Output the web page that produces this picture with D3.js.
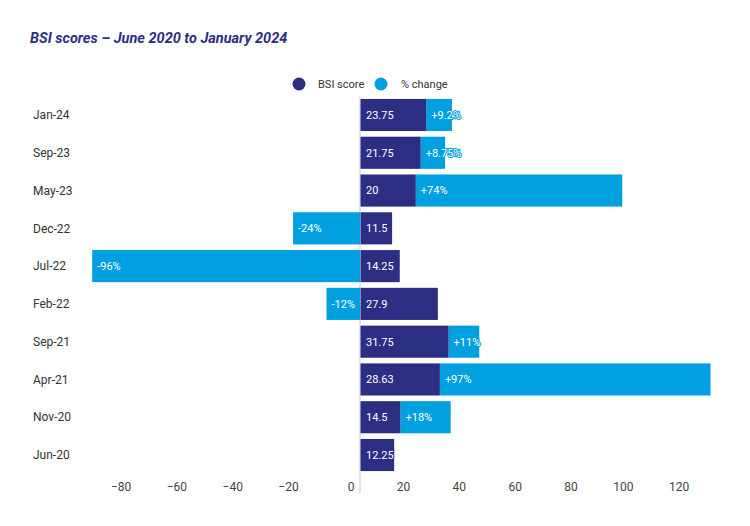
<!DOCTYPE html>
<html>
<head>
<meta charset="utf-8">
<script src="https://cdn.jsdelivr.net/npm/d3@7"></script>
<style>
  body { margin: 0; background: #fff; }
  svg { font-family: Roboto, "Noto Sans", sans-serif; }
</style>
</head>
<body>
<div id="chart"></div>
<script>
(function () {
  "use strict";

  var dates  = ["Jan-24", "Sep-23", "May-23", "Dec-22", "Jul-22", "Feb-22", "Sep-21", "Apr-21", "Nov-20", "Jun-20"];
  var bsi    = [23.75, 21.75, 20, 11.5, 14.25, 27.9, 31.75, 28.63, 14.5, 12.25];
  var change = [9.2, 8.75, 74, -24, -96, -12, 11, 97, 18, null];
  var ticks  = [-80, -60, -40, -20, 0, 20, 40, 60, 80, 100, 120];

  var NAVY  = "#2c2e83";
  var BLUE  = "#00a0e0";
  var TEXT  = "#333333";
  var AXIS  = "#444444";

  var W = 750, H = 526;

  var svg = d3.select("#chart")
    .append("svg")
      .attr("width", W)
      .attr("height", H);

  svg.append("text")
    .attr("x", 30)
    .attr("y", 43)
    .attr("fill", NAVY)
    .attr("font-size", "14.5px")
    .attr("font-weight", "bold")
    .attr("font-style", "italic")
    .text("BSI scores \u2013 June 2020 to January 2024");

  // legend
  var legend = [
    { label: "BSI score", color: NAVY, cx: 299, tx: 318 },
    { label: "% change",  color: BLUE, cx: 381, tx: 401 }
  ];
  legend.forEach(function (d) {
    svg.append("circle")
      .attr("cx", d.cx).attr("cy", 84).attr("r", 6.5)
      .attr("fill", d.color);
    svg.append("text")
      .attr("x", d.tx).attr("y", 84)
      .attr("dy", "0.35em")
      .attr("fill", TEXT)
      .attr("font-size", "11px")
      .text(d.label);
  });

  var x = d3.scaleLinear()
    .domain([-100, 130])
    .range([360 - 100 * 2.79, 360 + 130 * 2.79]);

  var y = d3.scaleBand()
    .domain(dates)
    .range([96.1, 473.9])
    .paddingInner(0.15)
    .paddingOuter(0.075);

  // zero line
  svg.append("line")
    .attr("x1", x(0)).attr("x2", x(0))
    .attr("y1", 97).attr("y2", 494)
    .attr("stroke", "#cccccc")
    .attr("stroke-width", 1);

  // x axis
  svg.append("g")
    .attr("transform", "translate(0,487)")
    .call(d3.axisBottom(x).tickValues(ticks).tickSize(0).tickPadding(0))
    .call(function (g) {
      g.select(".domain").remove();
      g.selectAll(".tick text")
        .attr("y", 0)
        .attr("dy", "0.35em")
        .attr("x", -6)
        .attr("text-anchor", "end")
        .attr("fill", AXIS)
        .attr("font-size", "12px")
        .attr("font-family", "Roboto, sans-serif");
    });

  // y labels
  svg.append("g")
    .selectAll("text")
    .data(dates)
    .join("text")
      .attr("x", 33)
      .attr("y", function (d) { return y(d) + y.bandwidth() / 2; })
      .attr("dy", "0.35em")
      .attr("fill", TEXT)
      .attr("font-size", "12px")
      .text(function (d) { return d; });

  var rows = dates.map(function (d, i) {
    return { date: d, bsi: bsi[i], change: change[i] };
  });

  var bh = y.bandwidth();

  // % change segments
  rows.forEach(function (r) {
    if (r.change == null) return;
    var x0, x1;
    if (r.change >= 0) {
      x0 = x(r.bsi);
      x1 = x(r.bsi + r.change);
    } else {
      x0 = x(r.change);
      x1 = x(0);
    }
    svg.append("rect")
      .attr("x", x0).attr("y", y(r.date))
      .attr("width", x1 - x0).attr("height", bh)
      .attr("fill", BLUE);
  });

  // BSI bars
  rows.forEach(function (r) {
    svg.append("rect")
      .attr("x", x(0) + 0.5).attr("y", y(r.date))
      .attr("width", x(r.bsi) - x(0) - 0.5).attr("height", bh)
      .attr("fill", NAVY);
    svg.append("text")
      .attr("x", x(0) + 6)
      .attr("y", y(r.date) + bh / 2)
      .attr("dy", "0.35em")
      .attr("fill", "#fff")
      .attr("stroke", NAVY)
      .attr("stroke-width", 2)
      .attr("paint-order", "stroke")
      .attr("font-size", "11px")
      .text(r.bsi);
  });

  // % change labels on top, with a halo so overflow stays readable
  rows.forEach(function (r) {
    if (r.change == null) return;
    var x0 = r.change >= 0 ? x(r.bsi) : x(r.change);
    svg.append("text")
      .attr("x", x0 + 5)
      .attr("y", y(r.date) + bh / 2)
      .attr("dy", "0.35em")
      .attr("fill", "#fff")
      .attr("stroke", BLUE)
      .attr("stroke-width", 2)
      .attr("paint-order", "stroke")
      .attr("font-size", "11px")
      .text((r.change > 0 ? "+" : "") + r.change + "%");
  });
}());
</script>
</body>
</html>
